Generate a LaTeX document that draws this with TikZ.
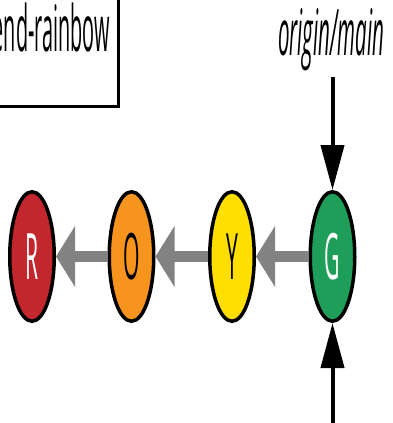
\documentclass[tikz,border=0pt]{standalone}
\usepackage{fontspec}
\setmainfont{Open Sans}
\usetikzlibrary{arrows.meta,shapes.geometric}
\definecolor{cR}{RGB}{193,39,45}
\definecolor{cO}{RGB}{247,148,30}
\definecolor{cY}{RGB}{255,222,0}
\definecolor{cG}{RGB}{30,158,88}
\definecolor{cParent}{RGB}{130,130,130}
\begin{document}
\begin{tikzpicture}[x=1pt,y=-1pt,
  lbl/.style={font=\fontsize{64}{64}\selectfont, inner sep=0pt},
  commit/.style={lbl, ellipse, draw=black, line width=3.5pt, minimum width=44.5pt, minimum height=129.5pt, inner sep=0pt},
  parentarrow/.style={draw=cParent, line width=11pt, -{Triangle[length=19pt,width=60pt]}},
  refarrow/.style={draw=black, line width=4pt, -{Triangle[length=45pt,width=23pt]}}]
\useasboundingbox (0,0) rectangle (392,423);
\clip (0,0) rectangle (392,423);
% branch label box
\draw[line width=3pt] (-20,-20) rectangle (118,106);
\node[lbl, anchor=base east] (rb) at (110,51) {\scalebox{0.31}[1]{end-rainbow}};
\node[lbl, anchor=base west] (om) at (278,55) {\scalebox{0.32}[1]{\itshape origin/main}};
% commits
\node[commit, fill=cR, text=white] (R) at (32,256.5) {\scalebox{0.33}[1]{R}};
\node[commit, fill=cO, text=black] (O) at (131.5,256.5) {\scalebox{0.33}[1]{O}};
\node[commit, fill=cY, text=black] (Y) at (232,256.5) {\scalebox{0.33}[1]{Y}};
\node[commit, fill=cG, text=white] (G) at (332.5,256.5) {\scalebox{0.33}[1]{G}};
% parent links
\draw[parentarrow] (G) -- (Y);
\draw[parentarrow] (Y) -- (O);
\draw[parentarrow] (O) -- (R);
% refs
\coordinate (gtop) at (332.5,77);
\coordinate (gbot) at (332.5,430);
\draw[refarrow] (gtop) -- (G.north);
\draw[refarrow] (gbot) -- (G.south);
\end{tikzpicture}
\end{document}
